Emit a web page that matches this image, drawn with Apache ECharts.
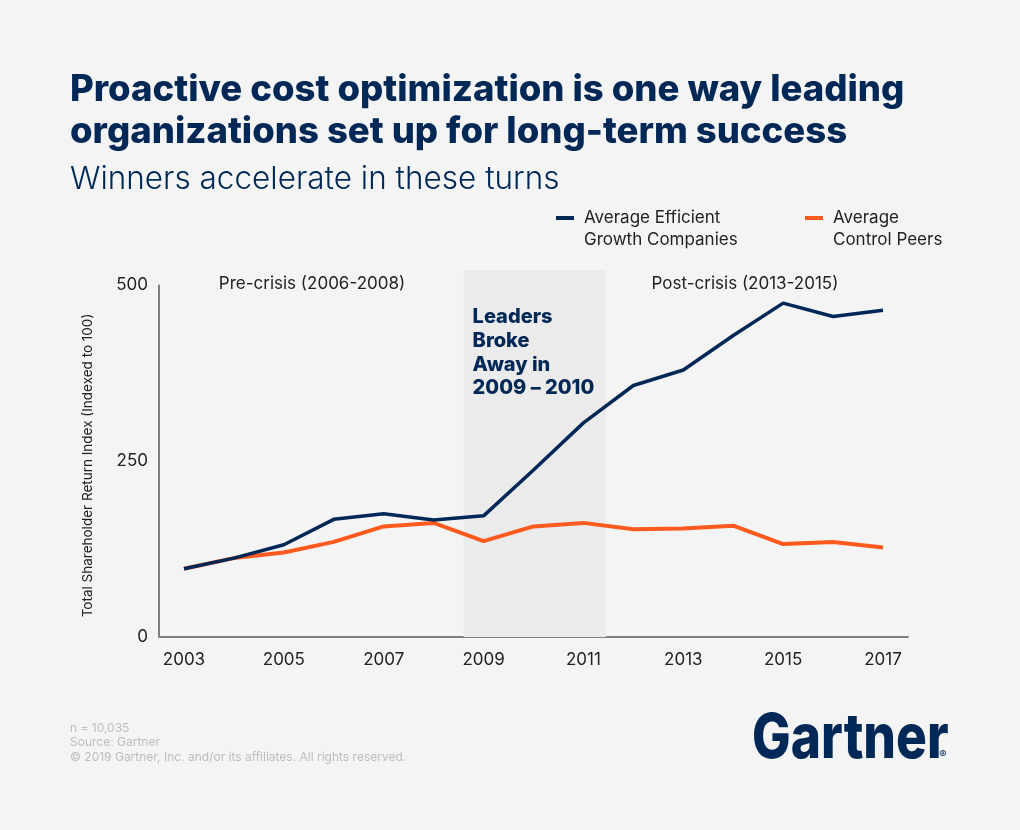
<!DOCTYPE html>
<html>
<head>
<meta charset="utf-8">
<script src="https://cdn.jsdelivr.net/npm/echarts@6/dist/echarts.min.js"></script>
<style>
  html, body { margin: 0; padding: 0; background: #f4f4f4; }
  #chart { width: 1020px; height: 830px; }
</style>
</head>
<body>
<div id="chart"></div>
<script>
const years = [2003, 2004, 2005, 2006, 2007, 2008, 2009, 2010, 2011, 2012, 2013, 2014, 2015, 2016, 2017];
const efficientGrowth = [97, 112, 131, 167, 175, 166, 172, 237, 304, 357, 379, 428, 474, 455, 464];
const controlPeers = [97, 112, 120, 135, 157, 162, 136, 157, 162, 153, 154, 158, 132, 135, 127];
const xTickLabels = [2003, 2005, 2007, 2009, 2011, 2013, 2015, 2017];
const yTickLabels = [0, 250, 500];
const seriesNames = ['Average Efficient\nGrowth Companies', 'Average\nControl Peers'];
const breakawayPeriod = [2008.6, 2011.45];
const periodLabels = ['Pre-crisis (2006-2008)', 'Post-crisis (2013-2015)'];

const NAVY = '#002856';
const ORANGE = '#fe5a1d';
const FONT = 'Inter';

const chart = echarts.init(document.getElementById('chart'));

const legendBase = {
  orient: 'horizontal',
  top: 185,
  padding: 0,
  icon: 'rect',
  itemWidth: 18,
  itemHeight: 4,
  selectedMode: false,
  formatter: name => '\n' + name,
  textStyle: { fontFamily: FONT, fontSize: 17, lineHeight: 22, color: '#222', padding: [0, 0, 0, 5] }
};

const option = {
  backgroundColor: '#f4f4f4',
  animation: false,
  title: [
    {
      text: 'Proactive cost optimization is one way leading\norganizations set up for long-term success',
      left: 70, top: 69, padding: 0,
      textStyle: { fontFamily: FONT, fontWeight: 800, fontSize: 36.5, lineHeight: 42, color: NAVY }
    },
    {
      text: 'Winners accelerate in these turns',
      left: 70, top: 164, padding: 0,
      textStyle: { fontFamily: FONT, fontWeight: 300, fontSize: 31.5, lineHeight: 31.5, color: NAVY }
    },
    {
      text: 'n = 10,035\nSource: Gartner\n© 2019 Gartner, Inc. and/or its affiliates. All rights reserved.',
      left: 70, top: 721, padding: 0,
      textStyle: { fontFamily: FONT, fontWeight: 400, fontSize: 12, lineHeight: 14.5, color: '#bdbdbd' }
    }
  ],
  legend: [
    Object.assign({ left: 556, data: [seriesNames[0]] }, legendBase),
    Object.assign({ left: 805, data: [seriesNames[1]] }, legendBase)
  ],
  grid: { left: 159, right: 112, top: 270, bottom: 193 },
  xAxis: {
    type: 'value',
    min: 2002.5,
    max: 2017.5,
    axisLine: { show: true, lineStyle: { color: '#7f7f7f', width: 2 } },
    axisTick: { show: false },
    splitLine: { show: false },
    axisLabel: {
      customValues: xTickLabels,
      formatter: v => String(v),
      margin: 14,
      fontFamily: FONT, fontSize: 17, color: '#222'
    }
  },
  yAxis: {
    type: 'value',
    min: 0,
    max: 521,
    axisLine: { show: false },
    axisTick: { show: false },
    splitLine: { show: false },
    axisLabel: {
      customValues: yTickLabels,
      margin: 11,
      fontFamily: FONT, fontSize: 17, color: '#222'
    },
    name: 'Total Shareholder Return Index (Indexed to 100)',
    nameLocation: 'middle',
    nameRotate: 90,
    nameGap: 64,
    nameTextStyle: { fontFamily: FONT, fontSize: 13.5, color: '#222', padding: [0, 24, 0, 0] }
  },
  series: [
    {
      name: seriesNames[0],
      type: 'line',
      color: NAVY,
      symbol: 'none',
      z: 3,
      lineStyle: { width: 3.5, color: NAVY },
      data: years.map((y, i) => [y, efficientGrowth[i]]),
      markArea: {
        silent: true,
        itemStyle: { color: '#ebebeb' },
        label: {
          show: true,
          position: 'insideTopLeft',
          distance: 0,
          padding: [35, 0, 0, 9],
          fontFamily: FONT, fontWeight: 800, fontSize: 20, lineHeight: 23.8, color: NAVY,
          formatter: 'Leaders\nBroke\nAway in\n2009 – 2010'
        },
        data: [[{ xAxis: breakawayPeriod[0], yAxis: 0 }, { xAxis: breakawayPeriod[1], yAxis: 521 }]]
      },
      markLine: {
        silent: true,
        symbol: 'none',
        label: { show: false },
        lineStyle: { color: '#7f7f7f', width: 2, type: 'solid' },
        data: [[{ coord: [2002.5, 0] }, { coord: [2002.5, 500] }]]
      }
    },
    {
      name: seriesNames[1],
      type: 'line',
      color: ORANGE,
      symbol: 'none',
      z: 2,
      lineStyle: { width: 4, color: ORANGE },
      data: years.map((y, i) => [y, controlPeers[i]])
    }
  ],
  graphic: [
    {
      type: 'text',
      x: 312, y: 284,
      style: { text: periodLabels[0], align: 'center', verticalAlign: 'middle', font: '400 17px Inter', fill: '#222' }
    },
    {
      type: 'text',
      x: 745, y: 284,
      style: { text: periodLabels[1], align: 'center', verticalAlign: 'middle', font: '400 17px Inter', fill: '#222' }
    },
    {
      type: 'text',
      x: 752, y: 739,
      scaleX: 0.83,
      style: { text: 'Gartner', align: 'left', verticalAlign: 'middle', font: '800 62px Inter', fill: NAVY }
    },
    {
      type: 'text',
      x: 943, y: 755,
      style: { text: '®', align: 'center', verticalAlign: 'middle', font: '400 11px Inter', fill: NAVY }
    }
  ]
};

chart.setOption(option);
</script>
</body>
</html>
